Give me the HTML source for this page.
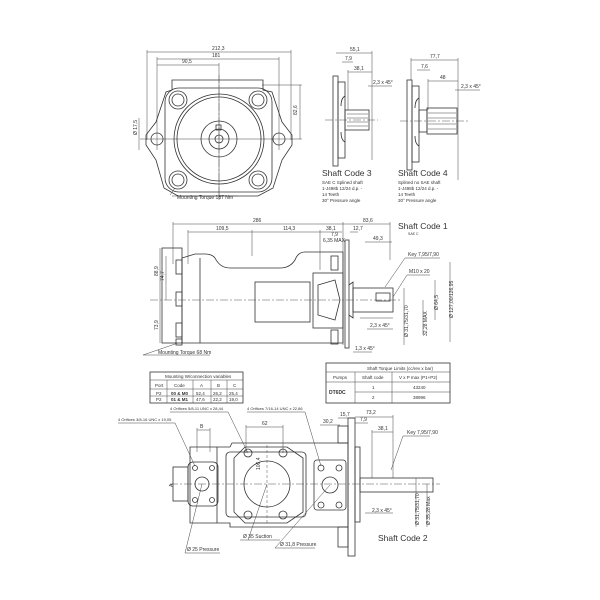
<!DOCTYPE html>
<html><head><style>
html,body{margin:0;padding:0;background:#fff;}
svg{display:block;font-family:"Liberation Sans",sans-serif;}
.l{stroke:#333;stroke-width:0.8;fill:none}
.t{stroke:#444;stroke-width:0.5;fill:none}
.c{stroke:#555;stroke-width:0.5;fill:none;stroke-dasharray:8 2 2 2}
.d{stroke:#555;stroke-width:0.5;fill:none;stroke-dasharray:3 2}
text{fill:#333;font-size:5px}
</style></head><body>
<svg width="600" height="600" viewBox="0 0 600 600" xmlns="http://www.w3.org/2000/svg">
<rect width="600" height="600" fill="#fff"/>
<!-- ===== FRONT VIEW ===== -->
<g>
<line class="t" x1="147" y1="52" x2="291" y2="52"/><text x="212" y="50">212,3</text>
<line class="t" x1="157" y1="59" x2="279" y2="59"/><text x="212" y="57">181</text>
<line class="t" x1="157" y1="65" x2="219" y2="65"/><text x="182" y="63">90,5</text>
<line class="t" x1="147" y1="50" x2="147" y2="140"/><line class="t" x1="291" y1="50" x2="291" y2="140"/>
<line class="t" x1="157" y1="57" x2="157" y2="150"/><line class="t" x1="279" y1="57" x2="279" y2="150"/>
<line class="t" x1="219" y1="63" x2="219" y2="200"/>
<line class="t" x1="300" y1="85" x2="300" y2="139"/><line class="t" x1="262" y1="85" x2="302" y2="85"/>
<line class="t" x1="140" y1="139" x2="302" y2="139"/>
<text x="297" y="115" transform="rotate(-90 297 115)">82,6</text>
<text x="137" y="135" transform="rotate(-90 137 135)">Ø 17,5</text>
<line class="t" x1="139" y1="118" x2="139" y2="150"/>
<!-- flange -->
<path class="l" d="M172,80 H263 V90 L272,92 L282,122 L292,135 L292,145 L282,160 L273,188 L258,196 H178 L164,188 L156,160 L146,145 L146,135 L156,122 L166,92 L172,90 Z"/>
<rect class="l" x="165" y="88" width="107" height="104" rx="14"/>
<circle class="l" cx="219" cy="139" r="45"/>
<circle class="l" cx="219" cy="139" r="42"/>
<circle class="l" cx="219" cy="139" r="18"/>
<circle class="l" cx="219" cy="139" r="10"/>
<circle class="l" cx="219" cy="139" r="4"/>
<rect class="l" x="216" y="125" width="5" height="5"/>
<circle class="l" cx="178" cy="100" r="9"/><circle class="l" cx="178" cy="100" r="6"/>
<circle class="l" cx="258" cy="100" r="9"/><circle class="l" cx="258" cy="100" r="6"/>
<circle class="l" cx="178" cy="180" r="9"/><circle class="l" cx="178" cy="180" r="6"/>
<circle class="l" cx="258" cy="180" r="9"/><circle class="l" cx="258" cy="180" r="6"/>
<circle class="l" cx="157" cy="139" r="6"/><circle class="l" cx="279" cy="139" r="6"/>
<line class="c" x1="219" y1="75" x2="219" y2="200"/>
<line class="t" x1="170" y1="195" x2="175" y2="188"/>
<line class="t" x1="172" y1="196" x2="238" y2="196"/>
<text x="177" y="199">Mounting Torque 187 Nm</text>
</g>
<!-- ===== SHAFT CODE 3 ===== -->
<g>
<line class="t" x1="336" y1="53" x2="372" y2="53"/><text x="350" y="51">55,1</text>
<line class="t" x1="342" y1="62" x2="353" y2="62"/><text x="345" y="60">7,9</text>
<line class="t" x1="348" y1="72" x2="372" y2="72"/><text x="354" y="70">38,1</text>
<text x="373" y="84">2,3 x 45°</text><line class="t" x1="368" y1="86" x2="392" y2="86"/>
<line class="t" x1="372" y1="51" x2="372" y2="160"/>
<line class="t" x1="348" y1="70" x2="348" y2="110"/>
<rect class="l" x="333" y="76" width="5" height="90"/>
<rect class="l" x="338" y="82" width="7" height="76"/>
<path class="l" d="M345,96 q-4,2 -4,10 M345,142 q-4,-2 -4,-10"/>
<rect class="l" x="345" y="110" width="24" height="20"/>
<line class="t" x1="347" y1="114" x2="368" y2="114"/><line class="t" x1="347" y1="118" x2="368" y2="118"/>
<line class="t" x1="347" y1="122" x2="368" y2="122"/><line class="t" x1="347" y1="126" x2="368" y2="126"/>
<line class="c" x1="325" y1="120" x2="378" y2="120"/>
<text x="322" y="176" style="font-size:8.5px">Shaft Code 3</text>
<text x="322" y="184" style="font-size:4.5px">SAE C  Splined shaft</text>
<text x="322" y="190" style="font-size:4.5px">1-J498b 12/24 d.p. -</text>
<text x="322" y="196" style="font-size:4.5px">14 Teeth</text>
<text x="322" y="202" style="font-size:4.5px">30° Pressure angle</text>
</g>
<!-- ===== SHAFT CODE 4 ===== -->
<g>
<line class="t" x1="411" y1="60" x2="458" y2="60"/><text x="430" y="58">77,7</text>
<line class="t" x1="417" y1="70" x2="430" y2="70"/><text x="421" y="68">7,6</text>
<line class="t" x1="428" y1="81" x2="458" y2="81"/><text x="440" y="79">48</text>
<text x="461" y="88">2,3 x 45°</text><line class="t" x1="455" y1="90" x2="480" y2="90"/>
<line class="t" x1="458" y1="58" x2="458" y2="180"/>
<line class="t" x1="428" y1="79" x2="428" y2="110"/>
<line class="t" x1="411" y1="58" x2="411" y2="80"/>
<rect class="l" x="407" y="80" width="5" height="90"/>
<rect class="l" x="412" y="86" width="7" height="76"/>
<path class="l" d="M419,98 q-4,2 -4,10 M419,146 q-4,-2 -4,-10"/>
<rect class="l" x="419" y="110" width="8" height="22"/>
<rect class="l" x="427" y="108" width="30" height="26"/>
<line class="t" x1="428" y1="113" x2="456" y2="113"/><line class="t" x1="428" y1="118" x2="456" y2="118"/>
<line class="t" x1="428" y1="124" x2="456" y2="124"/><line class="t" x1="428" y1="129" x2="456" y2="129"/>
<line class="c" x1="400" y1="121" x2="470" y2="121"/>
<text x="398" y="176" style="font-size:8.5px">Shaft Code 4</text>
<text x="398" y="184" style="font-size:4.5px">Splined no SAE shaft</text>
<text x="398" y="190" style="font-size:4.5px">1-J498b 12/24 d.p. -</text>
<text x="398" y="196" style="font-size:4.5px">14 Teeth</text>
<text x="398" y="202" style="font-size:4.5px">30° Pressure angle</text>
</g>
<!-- ===== SIDE VIEW ===== -->
<g>
<line class="t" x1="173" y1="224" x2="343" y2="224"/><text x="253" y="222">286</text>
<line class="t" x1="343" y1="224" x2="390" y2="224"/><text x="363" y="222">83,6</text>
<line class="t" x1="188" y1="232" x2="252" y2="232"/><text x="216" y="230">109,5</text>
<line class="t" x1="252" y1="232" x2="320" y2="232"/><text x="283" y="230">114,3</text>
<line class="t" x1="320" y1="232" x2="342" y2="232"/><text x="326" y="230">38,1</text>
<line class="t" x1="350" y1="232" x2="358" y2="232"/><text x="353" y="230">12,7</text>
<text x="331" y="236">7,9</text><text x="323" y="242">6,35 MAX</text>
<line class="t" x1="365" y1="242" x2="392" y2="242"/><text x="373" y="240">49,3</text>
<text x="398" y="229" style="font-size:8.5px">Shaft Code 1</text>
<text x="408" y="235" style="font-size:3.5px">SAE C</text>
<line class="t" x1="173" y1="222" x2="173" y2="264"/><line class="t" x1="188" y1="230" x2="188" y2="264"/>
<line class="t" x1="252" y1="230" x2="252" y2="256"/><line class="t" x1="320" y1="230" x2="320" y2="270"/>
<line class="t" x1="343" y1="222" x2="343" y2="345"/>
<line class="t" x1="390" y1="222" x2="390" y2="260"/>
<line class="t" x1="160" y1="248" x2="160" y2="300"/><text x="158" y="276" transform="rotate(-90 158 276)">88,9</text>
<line class="t" x1="166" y1="256" x2="166" y2="300"/><text x="164" y="281" transform="rotate(-90 164 281)">74,7</text>
<line class="t" x1="160" y1="300" x2="160" y2="343"/><text x="158" y="330" transform="rotate(-90 158 330)">73,9</text>
<!-- body -->
<rect class="l" x="162" y="248" width="20" height="95"/>
<path class="l" d="M182,258 V343 H343 V252 H305 Q298,252 295,260 Q290,268 280,268 H230 Q220,268 215,258 Q212,254 205,254 H195 Z"/>
<line class="l" x1="200" y1="258" x2="200" y2="343"/>
<rect class="l" x="255" y="282" width="55" height="40"/>
<rect class="l" x="313" y="273" width="30" height="55"/>
<path class="l" d="M318,285 L335,280 L340,300 L335,320 L318,315 Z"/>
<rect class="l" x="176" y="260" width="6" height="14"/><rect class="l" x="176" y="292" width="6" height="14"/>
<rect class="l" x="176" y="323" width="6" height="14"/><rect class="l" x="176" y="339" width="6" height="6"/>
<rect class="l" x="331" y="256" width="7" height="14"/><rect class="l" x="331" y="330" width="7" height="14"/>
<rect class="l" x="345" y="240" width="4" height="108"/>
<path class="l" d="M349,285 L353,282 V318 L349,315"/>
<rect class="l" x="353" y="288" width="40" height="24"/>
<rect class="l" x="376" y="293" width="14" height="8"/>
<line class="c" x1="150" y1="300" x2="400" y2="300"/>
<line class="t" x1="385" y1="287" x2="405" y2="258"/><line class="t" x1="405" y1="258" x2="440" y2="258"/><text x="408" y="256">Key 7,95/7,90</text>
<line class="t" x1="393" y1="297" x2="407" y2="275"/><line class="t" x1="407" y1="275" x2="430" y2="275"/><text x="409" y="273">M10 x 20</text>
<line class="t" x1="360" y1="318" x2="393" y2="318"/><text x="370" y="327">2,3 x 45°</text>
<line class="t" x1="367" y1="329" x2="393" y2="329"/>
<line class="t" x1="404" y1="288" x2="404" y2="345"/><text x="408" y="337" transform="rotate(-90 408 337)">Ø 31,75/31,70</text>
<line class="t" x1="423" y1="300" x2="423" y2="335"/><text x="427" y="336" transform="rotate(-90 427 336)">32,28 MAX</text>
<line class="t" x1="435" y1="280" x2="435" y2="320"/><text x="438" y="310" transform="rotate(-90 438 310)">Ø 64,5</text>
<line class="t" x1="450" y1="262" x2="450" y2="342"/><text x="453" y="318" transform="rotate(-90 453 318)">Ø 127,00/126,95</text>
<text x="355" y="350">1,3 x 45°</text><line class="t" x1="353" y1="352" x2="372" y2="352"/>
<line class="t" x1="143" y1="355" x2="178" y2="343"/><line class="t" x1="143" y1="355" x2="210" y2="355"/>
<text x="158" y="354">Mounting Torque 68 Nm</text>
</g>
<!-- ===== TABLES ===== -->
<g>
<rect class="l" x="150" y="372" width="93" height="31"/>
<line class="t" x1="150" y1="380" x2="243" y2="380"/>
<line class="t" x1="150" y1="389" x2="243" y2="389"/>
<line class="t" x1="150" y1="396" x2="243" y2="396"/>
<line class="t" x1="167" y1="380" x2="167" y2="403"/><line class="t" x1="193" y1="380" x2="193" y2="403"/>
<line class="t" x1="211" y1="380" x2="211" y2="403"/><line class="t" x1="227" y1="380" x2="227" y2="403"/>
<text x="165" y="378" style="font-size:4.5px">Mounting W/connection variables</text>
<text x="155" y="387" style="font-size:4.5px">Port</text><text x="174" y="387" style="font-size:4.5px">Code</text>
<text x="200" y="387" style="font-size:4.5px">A</text><text x="217" y="387" style="font-size:4.5px">B</text><text x="233" y="387" style="font-size:4.5px">C</text>
<text x="156" y="395" style="font-size:4.5px">P2</text><text x="171" y="395" style="font-size:4.5px;font-weight:bold">00 &amp; M0</text>
<text x="196" y="395" style="font-size:4.5px">52,4</text><text x="213" y="395" style="font-size:4.5px">26,2</text><text x="229" y="395" style="font-size:4.5px">25,4</text>
<text x="156" y="401" style="font-size:4.5px">P2</text><text x="171" y="401" style="font-size:4.5px;font-weight:bold">01 &amp; M1</text>
<text x="196" y="401" style="font-size:4.5px">47,6</text><text x="213" y="401" style="font-size:4.5px">22,2</text><text x="229" y="401" style="font-size:4.5px">19,0</text>

<rect class="l" x="326" y="363" width="124" height="40"/>
<line class="t" x1="326" y1="372" x2="450" y2="372"/>
<line class="t" x1="326" y1="382" x2="450" y2="382"/>
<line class="t" x1="355" y1="392" x2="450" y2="392"/>
<line class="t" x1="355" y1="372" x2="355" y2="403"/><line class="t" x1="392" y1="372" x2="392" y2="403"/>
<text x="367" y="370" style="font-size:4.5px">Shaft Torque Limits (cc/rev x bar)</text>
<text x="333" y="379" style="font-size:4.5px">Pumps</text><text x="362" y="379" style="font-size:4.5px">Shaft code</text><text x="399" y="379" style="font-size:4.5px">V x P max (P1+P2)</text>
<text x="329" y="394" style="font-size:5px;font-weight:bold">DT6DC</text>
<text x="372" y="389" style="font-size:4.5px">1</text><text x="413" y="389" style="font-size:4.5px">43240</text>
<text x="372" y="399" style="font-size:4.5px">2</text><text x="413" y="399" style="font-size:4.5px">38996</text>
</g>
<!-- ===== BOTTOM VIEW ===== -->
<g>
<text x="170" y="410" style="font-size:4px">4 Orifices 5/8-11 UNC x 28,44</text>
<text x="247" y="410" style="font-size:4px">4 Orifices 7/16-14 UNC x 22,86</text>
<text x="118" y="421" style="font-size:4px">4 Orifices 3/8-16 UNC x 19,05</text>
<line class="t" x1="170" y1="412" x2="228" y2="412"/><line class="t" x1="228" y1="412" x2="248" y2="453"/>
<line class="t" x1="247" y1="412" x2="305" y2="412"/><line class="t" x1="305" y1="412" x2="321" y2="466"/>
<line class="t" x1="118" y1="423" x2="175" y2="423"/><line class="t" x1="175" y1="423" x2="195" y2="466"/>
<line class="t" x1="197" y1="430" x2="210" y2="430"/><text x="200" y="428">B</text>
<line class="t" x1="246" y1="427" x2="283" y2="427"/><text x="262" y="425">62</text>
<line class="t" x1="320" y1="425" x2="340" y2="425"/><text x="323" y="423">30,2</text>
<text x="340" y="416">15,7</text><line class="t" x1="338" y1="418" x2="355" y2="418"/>
<text x="366" y="414">73,2</text><line class="t" x1="355" y1="417" x2="393" y2="417"/>
<text x="360" y="421">7,9</text><line class="t" x1="355" y1="423" x2="368" y2="423"/>
<text x="378" y="430">38,1</text><line class="t" x1="372" y1="432" x2="393" y2="432"/>
<line class="t" x1="393" y1="415" x2="393" y2="478"/><line class="t" x1="372" y1="430" x2="372" y2="478"/>
<line class="t" x1="197" y1="428" x2="197" y2="452"/><line class="t" x1="210" y1="428" x2="210" y2="452"/>
<line class="t" x1="246" y1="425" x2="246" y2="453"/><line class="t" x1="283" y1="425" x2="283" y2="453"/>
<!-- body -->
<path class="l" d="M190,447 H230 L232,443 H348 V527 H230 V523 H190 Z"/>
<line class="l" x1="217" y1="447" x2="217" y2="523"/>
<path class="l" d="M234,458 L245,447 H287 L303,458 V512 L287,523 H245 L234,512 Z"/>
<rect class="l" x="226" y="452" width="80" height="65" rx="4"/>
<circle class="l" cx="267" cy="484" r="23"/>
<circle class="l" cx="248" cy="453" r="4"/><circle class="l" cx="283" cy="453" r="4"/>
<circle class="l" cx="248" cy="515" r="4"/><circle class="l" cx="283" cy="515" r="4"/>
<rect class="l" x="188" y="462" width="30" height="44" rx="5"/>
<circle class="l" cx="202" cy="484" r="7"/>
<circle class="l" cx="195" cy="468" r="2.5"/><circle class="l" cx="212" cy="468" r="2.5"/>
<circle class="l" cx="195" cy="500" r="2.5"/><circle class="l" cx="212" cy="500" r="2.5"/>
<rect class="l" x="314" y="460" width="32" height="50" rx="3"/>
<circle class="l" cx="330" cy="485" r="8"/>
<circle class="l" cx="321" cy="468" r="3"/><circle class="l" cx="339" cy="468" r="3"/>
<circle class="l" cx="321" cy="505" r="3"/><circle class="l" cx="339" cy="505" r="3"/>
<rect class="l" x="338" y="426" width="10" height="17"/><rect class="l" x="338" y="527" width="10" height="20"/>
<rect class="l" x="348" y="418" width="7" height="138"/>
<rect class="l" x="355" y="447" width="5" height="75"/>
<rect class="l" x="360" y="478" width="73" height="14"/>
<line class="c" x1="170" y1="484" x2="440" y2="484"/>
<line class="d" x1="267" y1="445" x2="267" y2="525"/>
<rect class="l" x="173" y="467" width="15" height="34"/>
<text x="173" y="487" transform="rotate(-90 173 487)">A</text>
<text x="260" y="470" transform="rotate(-90 260 470)">106,4</text>
<line class="t" x1="391" y1="470" x2="403" y2="436"/><line class="t" x1="403" y1="436" x2="430" y2="436"/><text x="407" y="434">Key 7,95/7,90</text>
<line class="t" x1="365" y1="513" x2="393" y2="513"/><text x="372" y="512">2,3 x 45°</text>
<line class="t" x1="416" y1="478" x2="416" y2="527"/><text x="419" y="525" transform="rotate(-90 419 525)">Ø 31,75/31,70</text>
<line class="t" x1="427" y1="484" x2="427" y2="527"/><text x="430" y="525" transform="rotate(-90 430 525)">Ø 35,28 Max</text>
<text x="378" y="541" style="font-size:8.5px">Shaft Code 2</text>
<line class="t" x1="248" y1="540" x2="267" y2="484"/><line class="t" x1="240" y1="540" x2="280" y2="540"/><text x="243" y="538">Ø 35  Suction</text>
<line class="t" x1="275" y1="548" x2="330" y2="485"/><line class="t" x1="275" y1="548" x2="315" y2="548"/><text x="280" y="546">Ø 31,8  Pressure</text>
<line class="t" x1="185" y1="553" x2="202" y2="484"/><line class="t" x1="185" y1="553" x2="220" y2="553"/><text x="187" y="551">Ø 25  Pressure</text>
</g>
</svg>
</body></html>
